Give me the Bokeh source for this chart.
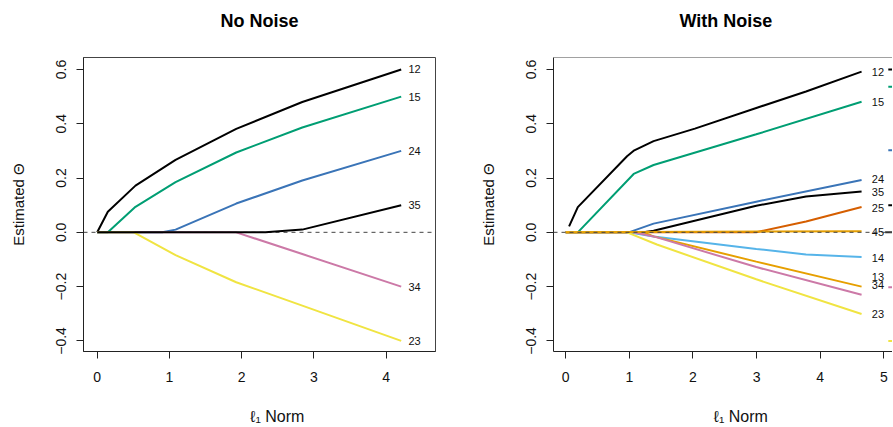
from bokeh.plotting import figure
from bokeh.layouts import row
from bokeh.models import Span, FixedTicker, Range1d, ColumnDataSource, Title
from bokeh.embed import file_html
from bokeh.resources import INLINE
from bokeh.core.properties import value

FONT = "Liberation Sans"

# ---------------- data: No Noise ----------------
nn_12_x = [0, 0.147, 0.53, 1.085, 1.925, 2.84, 4.21]
nn_12_y = [0, 0.076, 0.172, 0.267, 0.381, 0.48, 0.6]
nn_15_x = [0, 0.147, 0.53, 1.085, 1.925, 2.84, 4.21]
nn_15_y = [0, 0, 0.094, 0.185, 0.294, 0.386, 0.5]
nn_24_x = [0, 0.9, 1.085, 1.925, 2.84, 4.21]
nn_24_y = [0, 0, 0.01, 0.106, 0.191, 0.3]
nn_34_x = [0, 1.925, 2.84, 4.21]
nn_34_y = [0, 0, -0.08, -0.2]
nn_23_x = [0, 0.507, 1.085, 1.925, 2.84, 4.21]
nn_23_y = [0, 0, -0.084, -0.184, -0.27, -0.4]
nn_35_x = [0, 2.33, 2.84, 4.21]
nn_35_y = [0, 0, 0.01, 0.1]

nn_labels = ["12", "15", "24", "35", "34", "23"]
nn_label_y = [0.6, 0.5, 0.3, 0.1, -0.2, -0.4]
nn_label_x = [4.31] * 6

# ---------------- data: With Noise ----------------
wn_12_x = [0.053, 0.19, 0.964, 1.078, 1.381, 2.03, 2.995, 3.777, 4.65]
wn_12_y = [0.022, 0.093, 0.28, 0.302, 0.336, 0.382, 0.458, 0.519, 0.592]
wn_15_x = [0, 0.19, 1.068, 1.381, 2.995, 4.65]
wn_15_y = [0, 0, 0.215, 0.248, 0.361, 0.481]
wn_24_x = [0, 0.99, 1.381, 2.995, 4.65]
wn_24_y = [0, 0, 0.032, 0.113, 0.193]
wn_35_x = [0, 1.225, 1.381, 2.995, 3.777, 4.65]
wn_35_y = [0, 0, 0.006, 0.098, 0.132, 0.15]
wn_25_x = [0, 2.995, 3.777, 4.65]
wn_25_y = [0, 0, 0.04, 0.093]
wn_14_x = [0, 0.99, 1.381, 2.995, 3.777, 4.65]
wn_14_y = [0, 0, -0.015, -0.061, -0.082, -0.091]
wn_13_x = [0, 1.225, 1.381, 2.995, 4.65]
wn_13_y = [0, 0, -0.015, -0.108, -0.2]
wn_34_x = [0, 1.068, 1.381, 2.995, 4.65]
wn_34_y = [0, 0, -0.015, -0.128, -0.23]
wn_23_x = [0, 0.964, 1.433, 2.995, 4.65]
wn_23_y = [0, 0, -0.045, -0.173, -0.301]
wn_45_x = [0, 4.65]
wn_45_y = [0, 0.004]

wn_labels = ["12", "15", "24", "35", "25", "45", "14", "13", "34", "23"]
wn_label_y = [0.589, 0.479, 0.195, 0.148, 0.089, 0.0, -0.094, -0.164, -0.195, -0.301]
wn_label_x = [4.81] * 10

# partial marks cut by the right edge of the picture
stub_y = [0.6, 0.536, 0.302, 0.1, 0.0, -0.202, -0.4]
stub_x0 = [5.07, 5.07, 5.07, 5.07, 5.02, 5.07, 5.07]
stub_x1 = [5.2] * 7
stub_colors = ["black", "#009E73", "#3A74B7", "black", "#333333", "#CC79A7", "#F0E442"]

x_ticks_left = [0, 1, 2, 3, 4]
x_ticks_right = [0, 1, 2, 3, 4, 5]
y_ticks = [-0.4, -0.2, 0.0, 0.2, 0.4, 0.6]
y_tick_labels = ["\u22120.4", "\u22120.2", "0.0", "0.2", "0.4", "0.6"]

titles = ["No Noise", "With Noise"]
XLABEL = "\u2002" * 5 + "\u2113\u2081  Norm"
YLABEL = "Estimated \u0398"

BLACK = "black"
GREEN = "#009E73"
BLUE = "#3A74B7"
PINK = "#CC79A7"
YELLOW = "#F0E442"
VERM = "#D55E00"
ORANGE = "#E69F00"
SKY = "#56B4E9"


def style(p, xticks, frame_box=True):
    p.grid.visible = False
    p.background_fill_color = "white"
    p.border_fill_color = "white"
    for ax in (p.xaxis[0], p.yaxis[0]):
        ax.axis_line_color = "#222222"
        ax.major_tick_line_color = "#222222"
        ax.major_tick_out = 7
        ax.major_tick_in = 0
        ax.minor_tick_line_color = None
        ax.major_label_text_font = FONT
        ax.major_label_text_font_size = "14px"
        ax.major_label_text_color = "#111111"
        ax.axis_label_text_font = FONT
        ax.axis_label_text_font_style = "normal"
        ax.axis_label_text_color = "#111111"
    p.xaxis.axis_label_text_font_size = "16px"
    p.yaxis.axis_label_text_font_size = "15px"
    p.xaxis.ticker = FixedTicker(ticks=xticks)
    p.yaxis.ticker = FixedTicker(ticks=y_ticks)
    p.yaxis.major_label_overrides = {t: s for t, s in zip(y_ticks, y_tick_labels)}
    p.yaxis.major_label_orientation = "vertical"
    p.xaxis.major_label_standoff = 13
    p.yaxis.major_label_standoff = 10
    p.xaxis.axis_label_standoff = 23
    p.yaxis.axis_label_standoff = 27
    p.xaxis.axis_label = XLABEL
    p.yaxis.axis_label = YLABEL
    if frame_box:
        p.outline_line_color = "#444444"
        p.outline_line_width = 1
    else:
        p.outline_line_color = None


def add_title(p, text, align, offset):
    # thin spacer next to the frame, then the real title above it
    p.add_layout(Title(text=" ", text_font_size="2px", standoff=11), "above")
    p.add_layout(Title(text=text, text_font=FONT, text_font_size="18px",
                       text_font_style="bold", vertical_align="top",
                       align=align, offset=offset, standoff=19,
                       text_color="black"), "above")


# ---------------- left panel ----------------
p1 = figure(width=476, height=427,
            x_range=Range1d(-0.19, 4.685), y_range=Range1d(-0.439, 0.644),
            output_backend="svg", toolbar_location=None,
            min_border_left=83, min_border_right=41,
            min_border_top=57, min_border_bottom=74)
style(p1, x_ticks_left)
add_title(p1, titles[0], "center", 0)
p1.add_layout(Span(location=0, dimension="width", line_color="#444444",
                   line_dash="4 4", line_width=1, level="underlay"))
for xs, ys, c in [(nn_12_x, nn_12_y, BLACK), (nn_15_x, nn_15_y, GREEN),
                  (nn_24_x, nn_24_y, BLUE), (nn_34_x, nn_34_y, PINK),
                  (nn_23_x, nn_23_y, YELLOW), (nn_35_x, nn_35_y, BLACK)]:
    p1.line(xs, ys, line_color=c, line_width=2)
p1.text(x=nn_label_x, y=nn_label_y, text=nn_labels,
        text_font=value(FONT), text_font_size=value("11px"),
        text_baseline="middle", text_align="left", text_color="#111111")

# ---------------- right panel ----------------
yr_top = 0.644
p2 = figure(width=416, height=427,
            x_range=Range1d(-0.192, 5.136), y_range=Range1d(-0.439, yr_top),
            output_backend="svg", toolbar_location=None,
            min_border_left=75, min_border_right=0,
            min_border_top=57, min_border_bottom=74)
style(p2, x_ticks_right, frame_box=False)
add_title(p2, titles[1], "left", 126)
p2.add_layout(Span(location=yr_top, dimension="width", line_color="#444444",
                   line_width=1))
for xs, ys, c in [(wn_12_x, wn_12_y, BLACK), (wn_15_x, wn_15_y, GREEN),
                  (wn_24_x, wn_24_y, BLUE), (wn_35_x, wn_35_y, BLACK),
                  (wn_25_x, wn_25_y, VERM), (wn_14_x, wn_14_y, SKY),
                  (wn_13_x, wn_13_y, ORANGE), (wn_34_x, wn_34_y, PINK),
                  (wn_23_x, wn_23_y, YELLOW), (wn_45_x, wn_45_y, ORANGE)]:
    p2.line(xs, ys, line_color=c, line_width=2)
p2.add_layout(Span(location=0, dimension="width", line_color="#444444",
                   line_dash="4 4", line_width=1))
p2.text(x=wn_label_x, y=wn_label_y, text=wn_labels,
        text_font=value(FONT), text_font_size=value("11px"),
        text_baseline="middle", text_align="left", text_color="#111111")
stub_src = ColumnDataSource(dict(x0=stub_x0, x1=stub_x1, y=stub_y, c=stub_colors))
p2.segment(x0="x0", y0="y", x1="x1", y1="y", line_color="c", line_width=2,
           source=stub_src)

layout = row(p1, p2)
open("out.html", "w").write(file_html(layout, INLINE))
